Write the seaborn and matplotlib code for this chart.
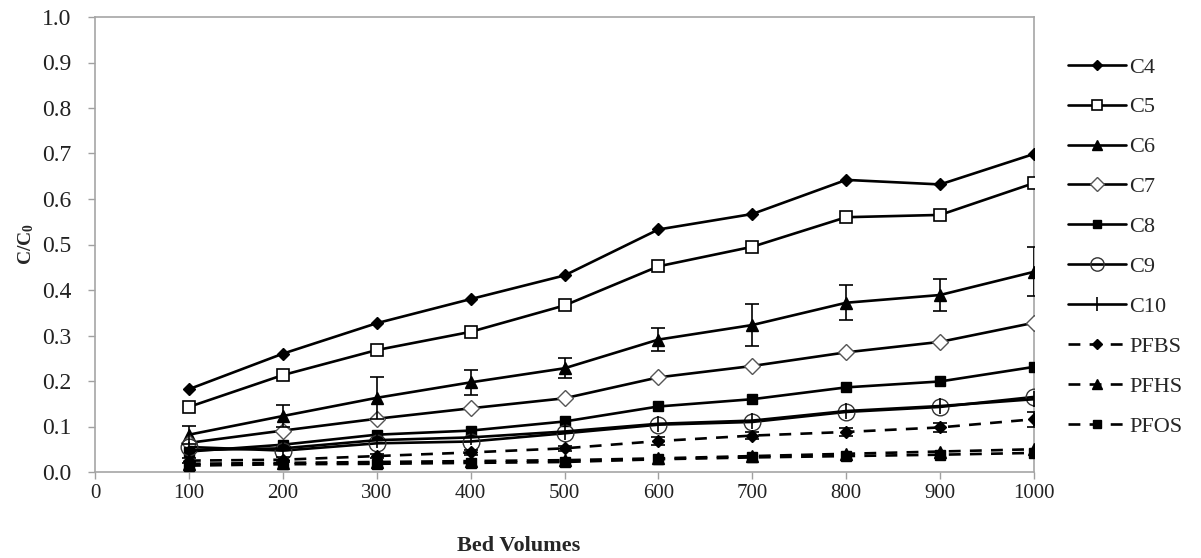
import numpy as np
import pandas as pd
import matplotlib
matplotlib.use("Agg")
import matplotlib.pyplot as plt
import seaborn as sns

bed_volumes = [100, 200, 300, 400, 500, 600, 700, 800, 900, 1000]
C4 = [0.182, 0.260, 0.327, 0.380, 0.432, 0.533, 0.567, 0.642, 0.632, 0.699]
C5 = [0.143, 0.213, 0.268, 0.308, 0.366, 0.452, 0.495, 0.560, 0.565, 0.635]
C6 = [0.082, 0.123, 0.163, 0.197, 0.228, 0.291, 0.323, 0.372, 0.389, 0.440]
C6_err = [0.020, 0.024, 0.046, 0.027, 0.022, 0.025, 0.047, 0.038, 0.035, 0.054]
C7 = [0.064, 0.091, 0.117, 0.140, 0.162, 0.208, 0.233, 0.263, 0.286, 0.328]
C8 = [0.045, 0.060, 0.082, 0.091, 0.111, 0.144, 0.160, 0.186, 0.199, 0.231]
C9 = [0.055, 0.047, 0.063, 0.067, 0.085, 0.104, 0.110, 0.132, 0.143, 0.165]
C10 = [0.048, 0.052, 0.070, 0.076, 0.089, 0.106, 0.113, 0.134, 0.145, 0.160]
PFBS = [0.025, 0.027, 0.035, 0.043, 0.052, 0.068, 0.080, 0.088, 0.098, 0.116]
PFBS_err = [0.005, 0.005, 0.005, 0.006, 0.006, 0.008, 0.008, 0.008, 0.009, 0.016]
PFHS = [0.018, 0.020, 0.022, 0.024, 0.026, 0.030, 0.035, 0.040, 0.045, 0.050]
PFOS = [0.014, 0.017, 0.018, 0.020, 0.022, 0.028, 0.032, 0.035, 0.038, 0.042]

series_names = ["C4", "C5", "C6", "C7", "C8", "C9", "C10", "PFBS", "PFHS", "PFOS"]
series_values = [C4, C5, C6, C7, C8, C9, C10, PFBS, PFHS, PFOS]
errors = {"C6": C6_err, "PFBS": PFBS_err}

styles = {
    "C4":   dict(marker="D", ms=6, mfc="black", mec="black", ls="-"),
    "C5":   dict(marker="s", ms=9, mfc="white", mec="black", ls="-", mew=1.2),
    "C6":   dict(marker="^", ms=9, mfc="black", mec="black", ls="-"),
    "C7":   dict(marker="D", ms=8.5, mfc="white", mec="#555555", ls="-", mew=1.0),
    "C8":   dict(marker="s", ms=7.5, mfc="black", mec="black", ls="-"),
    "C9":   dict(marker="o", ms=12, mfc="none", mec="#333333", ls="-", mew=1.0),
    "C10":  dict(marker="|", ms=12, mfc="black", mec="black", ls="-", mew=1.2),
    "PFBS": dict(marker="D", ms=6, mfc="black", mec="black", ls=(0, (4.5, 3.5))),
    "PFHS": dict(marker="^", ms=8.5, mfc="black", mec="black", ls=(0, (4.5, 3.5))),
    "PFOS": dict(marker="s", ms=7.5, mfc="black", mec="black", ls=(0, (4.5, 3.5))),
}

sns.set_theme(style="white")
plt.rcParams["font.family"] = ["Liberation Serif", "DejaVu Serif"]
plt.rcParams["mathtext.fontset"] = "custom"
plt.rcParams["mathtext.bf"] = "Liberation Serif:bold"
plt.rcParams["mathtext.rm"] = "Liberation Serif"

fig = plt.figure(figsize=(12.01, 5.58), dpi=100)
ax = fig.add_axes([95 / 1201, 86 / 558, (1034 - 95) / 1201, (472 - 17) / 558])

df = pd.DataFrame({"Bed Volumes": bed_volumes})
for name, vals in zip(series_names, series_values):
    df[name] = vals

for name in series_names:
    st = styles[name]
    sns.lineplot(data=df, x="Bed Volumes", y=name, ax=ax, color="black",
                 linewidth=1.9, linestyle=st["ls"], marker=st["marker"],
                 markersize=st["ms"], markerfacecolor=st["mfc"],
                 markeredgecolor=st["mec"], markeredgewidth=st.get("mew", 1.0),
                 label=name, zorder=3)
    if name in errors:
        ax.errorbar(df["Bed Volumes"], df[name], yerr=errors[name], fmt="none",
                    ecolor="black", elinewidth=1.2, capsize=5, capthick=1.2,
                    zorder=4)

ax.set_xlim(0, 1000)
ax.set_ylim(0, 1.0)
ax.set_xticks(np.arange(0, 1001, 100))
ax.set_yticks(np.arange(0, 1.01, 0.1))
ax.set_yticklabels([f"{v:.1f}" for v in np.arange(0, 1.01, 0.1)])
ax.tick_params(axis="both", colors="#222222", length=5, width=1.0,
               direction="out", bottom=True, left=True)
ax.tick_params(axis="x", labelsize=15, color="#a0a0a0", pad=4)
ax.tick_params(axis="y", labelsize=17, color="#a0a0a0", pad=12)
for sp in ax.spines.values():
    sp.set_color("#a6a6a6")
    sp.set_linewidth(1.2)

ax.set_xlabel("Bed Volumes", fontsize=16, fontweight="bold")
ax.xaxis.set_label_coords((519 - 95) / (1034 - 95), -(536 - 472) / (472 - 17))
ax.set_ylabel(r"$\mathbf{C/C_0}$", fontsize=14)
ax.yaxis.set_label_coords(-(95 - 36) / (1034 - 95), 0.5)

handles, labels = ax.get_legend_handles_labels()
leg = ax.legend(handles, labels, loc="upper left",
                bbox_to_anchor=(1068 / 1201, 1 - 57 / 558),
                bbox_transform=fig.transFigure, frameon=False, fontsize=16,
                handlelength=2.6, labelspacing=0.87, handletextpad=0.15,
                borderaxespad=0, borderpad=0)
for h in leg.legend_handles:
    h.set_markersize(h.get_markersize() * 0.8)

fig.savefig("out.png", dpi=100)
